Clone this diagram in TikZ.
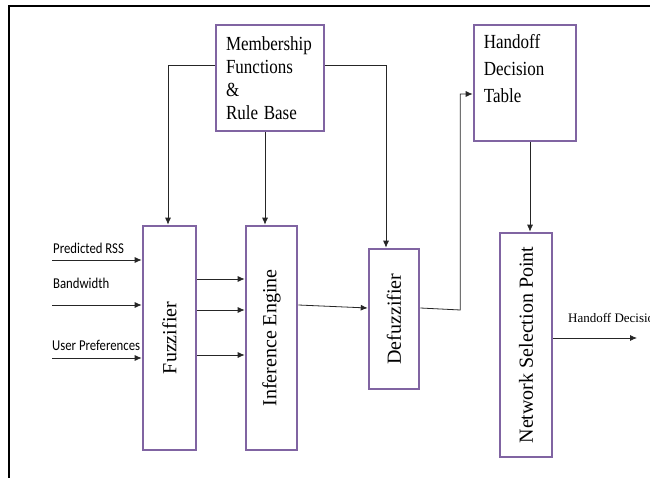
\documentclass[tikz,border=0pt]{standalone}
\usepackage{fontspec}
\setmainfont{Liberation Serif}
\newfontfamily\labfont{Carlito}
\usepackage{graphicx}
\usetikzlibrary{arrows.meta,calc}
\definecolor{boxpurple}{RGB}{128,100,162}
\newcommand\sq[1]{\scalebox{0.85}[1]{#1}}
\begin{document}
\begin{tikzpicture}[x=1pt,y=-1pt,
  box/.style={draw=boxpurple, line width=2.6pt, fill=white, inner sep=0pt},
  arr/.style={draw=black!85, line width=0.8pt, -{Latex[length=7pt,width=6pt]}},
  boxtext/.style={font=\fontsize{20}{23}\selectfont},
  inlab/.style={font=\labfont\fontsize{15}{18}\selectfont, anchor=west, inner sep=0pt},
  frameline/.style={line width=2pt}]
\useasboundingbox (0,0) rectangle (650,478);
\draw[frameline] (8.5,478) -- (8.5,6.5) -- (650,6.5);

% boxes
\node[box, boxtext, minimum width=108, minimum height=106, text width=88, align=left] (mf) at (270,78)
  {\sq{Membership}\\\sq{Functions}\\\sq{\&}\\\sq{Rule Base}};
\node[box, minimum width=102, minimum height=116] (hdt) at (525,83) {};
\node[anchor=north west, inner sep=0pt, font=\fontsize{20}{27}\selectfont, align=left] (hdtt)
  at ([shift={(11,11)}]hdt.north west) {\sq{Handoff}\\\sq{Decision}\\\sq{Table}};
\node[box, boxtext, minimum width=53, minimum height=224] (fz) at (169.5,338) {\rotatebox{90}{Fuzzifier}};
\node[box, boxtext, minimum width=51, minimum height=224] (ie) at (271.5,338) {\rotatebox{90}{Inference Engine}};
\node[box, boxtext, minimum width=50, minimum height=140] (df) at (394,319) {\rotatebox{90}{Defuzzifier}};
\node[box, boxtext, minimum width=52, minimum height=224] (nsp) at (526,345) {\rotatebox{90}{Network Selection Point}};

% inputs
\coordinate (in1) at (52,260);
\coordinate (in2) at (52,305);
\coordinate (in3) at (52,358);
\node[inlab] (l1) at (53,248) {\sq{Predicted RSS}};
\node[inlab] (l2) at (53,283) {\sq{Bandwidth}};
\node[inlab] (l3) at (52,345) {\sq{User Preferences}};
\draw[arr] (in1) -- (in1 -| fz.west);
\draw[arr] (in2) -- (in2 -| fz.west);
\draw[arr] (in3) -- (in3 -| fz.west);

% membership to blocks
\draw[arr] ([yshift=13pt]mf.west) -| ([xshift=-1.5pt]fz.north);
\draw[arr] ([xshift=-5pt]mf.south) -- ([xshift=-5pt]mf.south |- ie.north);
\draw[arr] ([yshift=13pt]mf.east) -| ([xshift=-8pt]df.north);

% fuzzifier to inference
\draw[arr] ([yshift=59pt]fz.east) -- ([yshift=59pt]ie.west);
\draw[arr] ([yshift=28pt]fz.east) -- ([yshift=28pt]ie.west);
\draw[arr] ([yshift=-17pt]fz.east) -- ([yshift=-17pt]ie.west);

% inference to defuzzifier
\draw[arr] ([yshift=33pt]ie.east) -- ([yshift=11pt]df.west);

% defuzzifier to handoff decision table
\draw[arr] ([yshift=11pt]df.east) -- ++(40,2) |- ([yshift=-11pt]hdt.west);

% table to NSP
\draw[arr] ([xshift=5pt]hdt.south) -- ([xshift=5pt]hdt.south |- nsp.north);

% output
\coordinate (hdout) at (637,338);
\draw[arr] ([yshift=7pt]nsp.east) -- (hdout);
\node[anchor=west, inner sep=0pt, font=\fontsize{13}{15}\selectfont] (hdlab) at (568,318) {Handoff Decision};
\end{tikzpicture}
\end{document}
